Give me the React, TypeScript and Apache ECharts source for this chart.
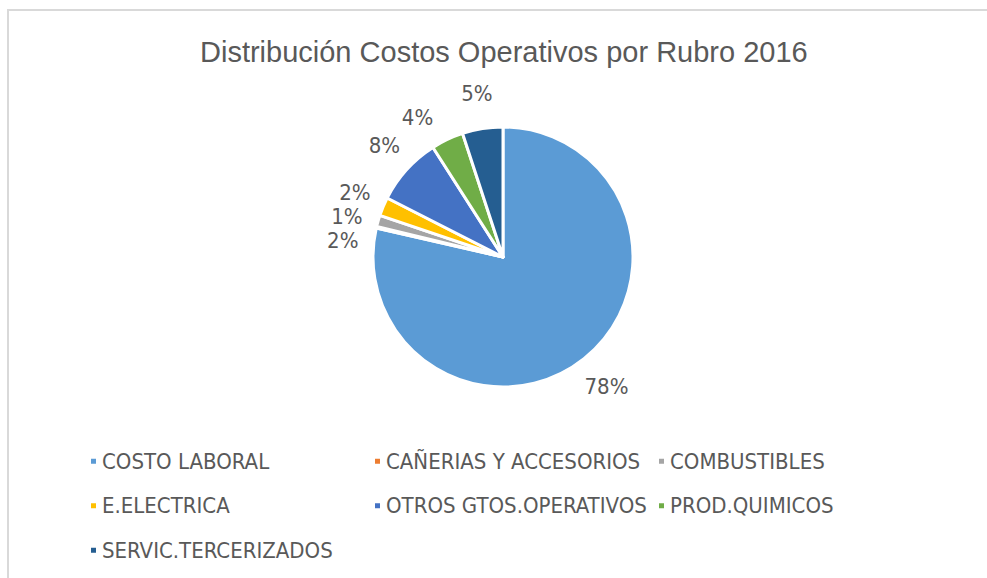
import React, { useEffect, useRef } from "react";
import * as echarts from "echarts";

const categories = [
  "COSTO LABORAL",
  "CAÑERIAS Y ACCESORIOS",
  "COMBUSTIBLES",
  "E.ELECTRICA",
  "OTROS GTOS.OPERATIVOS",
  "PROD.QUIMICOS",
  "SERVIC.TERCERIZADOS",
];
const values = [78.1, 0.2, 1.4, 2.3, 8.4, 4.0, 5.0];
const percentLabels = ["78%", "2%", "1%", "2%", "8%", "4%", "5%"];
const colors = ["#5B9BD5", "#ED7D31", "#A5A5A5", "#FFC000", "#4472C4", "#70AD47", "#255E91"];
const titleText = "Distribución Costos Operativos por Rubro 2016";

const NARROW = '"DejaVu Sans Condensed", "Liberation Sans", sans-serif';

export default function App() {
  const ref = useRef<HTMLDivElement>(null);
  useEffect(() => {
    if (!ref.current) return;
    const chart = echarts.init(ref.current, null, { renderer: "svg" });
    chart.setOption({
      animation: false,
      backgroundColor: "#ffffff",
      color: colors,
      title: {
        text: titleText,
        left: 195,
        top: 32,
        textStyle: {
          fontFamily: '"Liberation Sans", Arial, sans-serif',
          fontSize: 29,
          fontWeight: "normal",
          color: "#595959",
        },
      },
      legend: {
        left: 84,
        top: 439,
        width: 880,
        itemWidth: 7,
        itemHeight: 7,
        itemGap: 10,
        icon: "rect",
        textStyle: {
          fontFamily: NARROW,
          fontSize: 22,
          color: "#595959",
          width: 261,
          lineHeight: 34.5,
        },
        data: categories,
      },
      series: [
        {
          type: "pie",
          center: [503, 257],
          radius: 130,
          startAngle: 90,
          clockwise: true,
          avoidLabelOverlap: true,
          itemStyle: { borderColor: "#ffffff", borderWidth: 3 },
          label: {
            show: true,
            position: "outside",
            fontFamily: NARROW,
            fontSize: 22,
            color: "#595959",
            formatter: (p: any) => percentLabels[p.dataIndex],
          },
          labelLine: { show: false, length: 36, length2: 0 },
          labelLayout: (p: any) => {
            const pts = p.labelLinePoints;
            if (!pts || !pts.length) return {};
            const end = pts[pts.length - 1];
            return { x: end[0], y: end[1], align: "center", verticalAlign: "middle" };
          },
          data: categories.map((c, i) => ({ name: c, value: values[i] })),
        },
      ],
    });
    return () => chart.dispose();
  }, []);
  return (
    <div style={{ position: "absolute", left: 0, top: 0, width: 987, height: 578, background: "#fff" }}>
      <div ref={ref} style={{ position: "absolute", left: 0, top: 0, width: 987, height: 578 }} />
      <div
        style={{
          position: "absolute",
          left: 7,
          top: 9,
          width: 980,
          height: 569,
          borderTop: "2px solid #d9d9d9",
          borderLeft: "2px solid #d9d9d9",
          pointerEvents: "none",
        }}
      />
    </div>
  );
}
